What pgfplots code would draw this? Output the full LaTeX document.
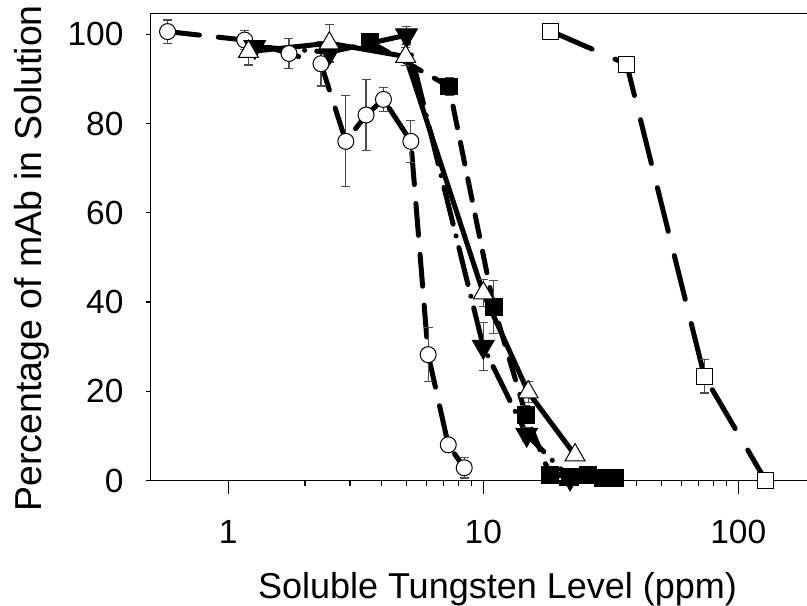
\documentclass[border=0pt]{standalone}
\usepackage{fontspec}
\setmainfont{Liberation Sans}
\usepackage{pgfplots}
\pgfplotsset{compat=1.18}
\begin{document}
\begin{tikzpicture}
\useasboundingbox (-150.7bp,-125.5bp) rectangle (656.3bp,480.5bp);
\begin{axis}[
  at={(0,0)}, anchor=south west,
  scale only axis, width=656.3bp, height=467.2bp,
  xmode=log, xmin=0.4963, xmax=186, ymin=0, ymax=104.7,
  axis x line*=bottom, axis y line*=left,
  clip=false,
  xtick={1,10,100}, xticklabels={1,10,100},
  ytick=\empty,
  extra y ticks={0,20,40,60,80,100},
  extra y tick labels={0,20,40,60,80,100},
  extra y tick style={major tick length=5bp},
  tick align=outside, major tick length=13bp, minor tick length=5bp,
  axis line style={line width=1.2bp, black},
  every tick/.style={black, line width=1.2bp},
  xticklabel style={font=\fontsize{33.5bp}{36bp}\selectfont, inner sep=0pt, anchor=north, yshift=-26.5bp},
  yticklabel style={font=\fontsize{33.5bp}{36bp}\selectfont, inner sep=0pt, anchor=east, xshift=-22bp},
  xlabel={Soluble Tungsten Level (ppm)},
  xlabel style={at={(axis description cs:0.5284,-0.2515)}, anchor=base, font=\fontsize{36bp}{40bp}\selectfont},
  ylabel={Percentage of mAb in Solution},
  ylabel style={at={(axis description cs:-0.1661,0.4752)}, anchor=base, rotate=0, font=\fontsize{37.5bp}{40bp}\selectfont},
  every axis plot/.append style={line width=5bp, line cap=round, black},
  error bars/y dir=both, error bars/y explicit,
  error bars/error bar style={solid, line width=1.2bp, black!70},
  error bars/error mark options={solid, line width=1.2bp, black!70, mark size=4.5bp, rotate=90},
]
% open circles
\addplot[dash pattern=on 32bp off 19bp, mark=*, mark size=8bp,
  mark options={solid, line width=1bp, fill=white, draw=black}]
  table[x=x, y=y, y error=e] {
x y e
0.578 100.6 2.6
1.16 98.7 2.2
1.73 95.7 3.3
2.31 93.4 5
2.89 76.0 10.2
3.47 81.9 8
4.06 85.4 2.7
5.2 76.0 4.7
6.08 28.2 6
7.29 8.0 1.5
8.42 2.85 2.3
};
% open squares
\addplot[dash pattern=on 45bp off 25bp, mark=square*, mark size=8bp,
  mark options={solid, line width=1bp, fill=white, draw=black}]
  table[x=x, y=y, y error=e] {
x y e
18.4 100.7 0
36.5 93.3 0
73.6 23.4 3.8
128 0 0
};
% filled squares
\addplot[dash pattern=on 22bp off 15bp, mark=square*, mark size=8.3bp,
  mark options={solid, line width=1bp, fill=black, draw=black}]
  table[x=x, y=y, y error=e] {
x y e
3.59 98.3 0.5
7.34 88.3 2
11.0 38.9 6
14.7 14.7 2
18.3 1.2 0
21.9 0.85 0
25.8 1.2 0
29.5 0.5 0
32.9 0.5 0
};
% filled down triangles
\addplot[dash pattern=on 38bp off 12bp on 0.1bp off 12bp, mark=triangle*, mark size=12.5bp,
  mark options={solid, rotate=180, line width=1bp, fill=black, draw=black}]
  table[x=x, y=y, y error=e] {
x y e
1.27 97.2 1
2.5 96.0 1
5.0 99.8 2
10.0 30.0 5.4
14.8 10.3 1.5
21.9 0.5 0
};
% open up triangles
\addplot[solid, mark=triangle*, mark size=11.5bp,
  mark options={solid, line width=1bp, fill=white, draw=black}]
  table[x=x, y=y, y error=e] {
x y e
1.2 96.1 3
2.49 98.0 4.2
4.96 95.0 2
10.0 42.0 3
15.0 19.8 2.4
22.9 5.7 0.5
};
\draw[line width=1.2bp, black] (rel axis cs:0,1) -- (rel axis cs:1,1);
\end{axis}
\end{tikzpicture}
\end{document}
